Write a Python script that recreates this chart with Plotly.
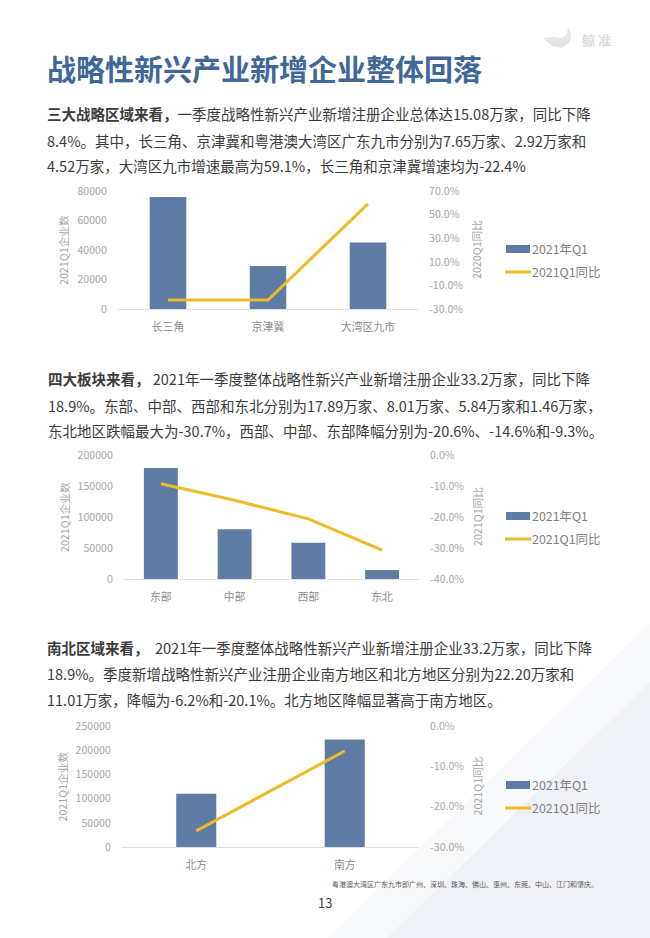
import plotly.graph_objects as go

W, H = 650, 938
FONT = "Noto Sans CJK SC"
BLUE = "#5F7DA4"
GOLD = "#EDBB27"
GREY = "#A6A6A6"
TEXT = "#3B3B3B"

cats1 = ["长三角", "京津冀", "大湾区九市"]
bars1 = [76000, 29200, 45000]
line1 = [-22.4, -22.4, 59.1]
lticks1 = [0, 20000, 40000, 60000, 80000]
rticks1 = [-30, -10, 10, 30, 50, 70]

cats2 = ["东部", "中部", "西部", "东北"]
bars2 = [178900, 80100, 58400, 14600]
line2 = [-9.3, -14.6, -20.6, -30.7]
lticks2 = [0, 50000, 100000, 150000, 200000]
rticks2 = [-40, -30, -20, -10, 0]

cats3 = ["北方", "南方"]
bars3 = [110100, 222000]
line3 = [-26.0, -6.2]
lticks3 = [0, 50000, 100000, 150000, 200000, 250000]
rticks3 = [-30, -20, -10, 0]

title = "战略性新兴产业新增企业整体回落"
paras = [
    (47, [114, 140, 165], [
        "<b>三大战略区域来看，</b>一季度战略性新兴产业新增注册企业总体达15.08万家，同比下降",
        "8.4%。其中，长三角、京津冀和粤港澳大湾区广东九市分别为7.65万家、2.92万家和",
        "4.52万家，大湾区九市增速最高为59.1%，长三角和京津冀增速均为-22.4%"]),
    (48, [378, 405, 430], [
        "<b>四大板块来看，</b> 2021年一季度整体战略性新兴产业新增注册企业33.2万家，同比下降",
        "18.9%。东部、中部、西部和东北分别为17.89万家、8.01万家、5.84万家和1.46万家，",
        "东北地区跌幅最大为-30.7%，西部、中部、东部降幅分别为-20.6%、-14.6%和-9.3%。"]),
    (47, [647, 673, 699], [
        "<b>南北区域来看，</b>  2021年一季度整体战略性新兴产业新增注册企业33.2万家，同比下降",
        "18.9%。季度新增战略性新兴产业注册企业南方地区和北方地区分别为22.20万家和",
        "11.01万家，降幅为-6.2%和-20.1%。北方地区降幅显著高于南方地区。"]),
]
footnote = "粤港澳大湾区广东九市即广州、深圳、珠海、佛山、惠州、东莞、中山、江门和肇庆。"
page_no = "13"
bar_name = "2021年Q1"
line_name = "2021Q1同比"
ytitle_left = "2021Q1企业数"
ytitle_right = ["2020Q1同比", "2021Q1同比", "2021Q1同比"]

# chart boxes in page pixels: x0, x1, ytop, ybottom, gap, legend y (bar), legend y (line), left title x
boxes = [
    (118, 418, 191, 309, 0.635, 249, 272, 64),
    (124, 419, 455, 579, 0.54, 516, 539, 64),
    (122, 419, 726, 847, 0.73, 785, 808, 62),
]
series = [
    (cats1, bars1, line1, lticks1, rticks1),
    (cats2, bars2, line2, lticks2, rticks2),
    (cats3, bars3, line3, lticks3, rticks3),
]

fx = lambda x: x / W
fy = lambda y: 1 - y / H

fig = go.Figure()
layout = {}
anns = []
shapes = []

def poly(pts, color):
    d = "M " + " L ".join(f"{fx(x):.4f},{fy(y):.4f}" for x, y in pts) + " Z"
    shapes.append(dict(type="path", xref="paper", yref="paper", path=d,
                       fillcolor=color, line_width=0, layer="below"))
poly([(650, 623), (650, 938), (327, 938)], "#F8F9FB")
poly([(650, 682), (650, 938), (387, 938)], "#EFF1F6")

TICK = dict(ticks="outside", ticklen=8, tickcolor="rgba(0,0,0,0)", tickwidth=1)
for i, ((cats, bars, line, lt, rt), box) in enumerate(zip(series, boxes)):
    x0, x1, yt, yb, gap, ly1, ly2, tx = box
    n = i * 2
    xa, ya, yb2 = (f"x{n+1}", f"y{n+1}", f"y{n+2}")
    fig.add_trace(go.Bar(x=cats, y=bars, name=bar_name, xaxis=xa, yaxis=ya, width=1 - gap,
                         marker=dict(color=BLUE, line=dict(width=0)), showlegend=False))
    fig.add_trace(go.Scatter(x=cats, y=line, name=line_name, xaxis=xa, yaxis=yb2,
                             mode="lines", line=dict(color=GOLD, width=3), showlegend=False))
    dom_x = [fx(x0), fx(x1)]
    dom_y = [fy(yb), fy(yt)]
    layout[f"xaxis{n+1}"] = dict(domain=dom_x, anchor=ya, type="category",
                                 showline=True, linecolor="#E0E0E0", linewidth=1,
                                 ticks="outside", ticklen=8, tickcolor="rgba(0,0,0,0)",
                                 showgrid=False, zeroline=False,
                                 tickfont=dict(size=10.8, color="#8C8C8C", family=FONT))
    layout[f"yaxis{n+1}"] = dict(domain=dom_y, anchor=xa, range=[lt[0], lt[-1]],
                                 tickvals=lt, ticktext=[str(v) for v in lt],
                                 showgrid=False, zeroline=False, showline=False, **TICK,
                                 tickfont=dict(size=10.6, color=GREY, family=FONT))
    layout[f"yaxis{n+2}"] = dict(domain=dom_y, anchor=xa, overlaying=ya, side="right",
                                 range=[rt[0], rt[-1]], tickvals=rt,
                                 ticktext=[f"{v:.1f}%" for v in rt],
                                 showgrid=False, zeroline=False, showline=False, **TICK,
                                 tickfont=dict(size=10.6, color=GREY, family=FONT))
    ymid = (yt + yb) / 2
    anns.append(dict(x=fx(tx), y=fy(ymid), text=ytitle_left, textangle=-90,
                     font=dict(size=10.7, color=GREY, family=FONT)))
    anns.append(dict(x=fx(477), y=fy(ymid), text=ytitle_right[i], textangle=-90,
                     font=dict(size=10.7, color=GREY, family=FONT)))
    shapes.append(dict(type="rect", xref="paper", yref="paper", x0=fx(506), x1=fx(530),
                       y0=fy(ly1 + 4), y1=fy(ly1 - 4), fillcolor=BLUE, line_width=0))
    shapes.append(dict(type="line", xref="paper", yref="paper", x0=fx(505), x1=fx(531),
                       y0=fy(ly2), y1=fy(ly2), line=dict(color=GOLD, width=3)))
    anns.append(dict(x=fx(530), y=fy(ly1), text=bar_name, xanchor="left",
                     font=dict(size=12.4, color="#7F7F7F", family=FONT)))
    anns.append(dict(x=fx(530), y=fy(ly2), text=line_name, xanchor="left",
                     font=dict(size=12.4, color="#7F7F7F", family=FONT)))

anns.append(dict(x=fx(45), y=fy(68), text=f"<b>{title}</b>", xanchor="left",
                 font=dict(size=29, color="#3F6797", family=FONT)))
for x, ys, lines in paras:
    for y, t in zip(ys, lines):
        anns.append(dict(x=fx(x - 2), y=fy(y), text=t, xanchor="left",
                         font=dict(size=14.5, color=TEXT, family=FONT)))
anns.append(dict(x=fx(600), y=fy(884), text=footnote, xanchor="right",
                 font=dict(size=7, color="#555555", family=FONT)))
anns.append(dict(x=fx(325), y=fy(902), text=page_no,
                 font=dict(size=13, color="#444444", family=FONT)))
anns.append(dict(x=fx(596), y=fy(40), text="<b>鲸 准</b>",
                 font=dict(size=13, color="#DCDCDC", family=FONT)))
poly([(543, 38), (552, 37), (562, 38), (567, 34), (568, 27), (571, 33), (570, 42), (562, 48), (552, 46)], "#E6E6E6")

for a in anns:
    a.update(xref="paper", yref="paper", showarrow=False)
    a.setdefault("xanchor", "center")
    a.setdefault("yanchor", "middle")

fig.update_layout(width=W, height=H, margin=dict(l=0, r=0, t=0, b=0, autoexpand=False),
                  paper_bgcolor="white", plot_bgcolor="rgba(0,0,0,0)", showlegend=False,
                  annotations=anns, shapes=shapes, font=dict(family=FONT), **layout)
fig.write_html("out.html", config={"displayModeBar": False},
               post_script="document.body.style.margin='0';")
